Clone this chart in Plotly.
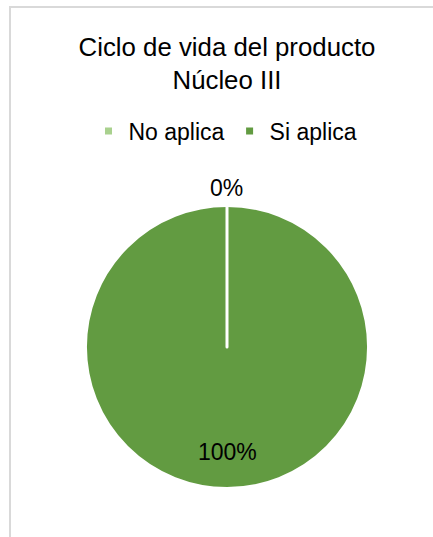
import math
import plotly.graph_objects as go

# Survey answers for the product life-cycle question
categories = ["No aplica", "Si aplica"]
values = [0, 100]
colors = ["#A9D18E", "#629B41"]

title_lines = ["Ciclo de vida del producto", "Núcleo III"]

W, H = 433, 537
FONT = "Liberation Sans, Arial, sans-serif"

# pie placement in pixels (margins are zero, so paper == page)
CX, CY, R = 227, 347, 141.5
pie_x = [(CX - R) / W, (CX + R) / W]
pie_y = [1 - (CY + R) / H, 1 - (CY - R) / H]

fig = go.Figure()

fig.add_trace(go.Pie(
    labels=categories,
    values=values,
    marker=dict(colors=colors, line=dict(color="white", width=3)),
    sort=True,
    direction="clockwise",
    rotation=0,
    textinfo="none",
    showlegend=False,
    domain=dict(x=pie_x, y=pie_y),
    hoverinfo="label+percent",
))

# percentage labels placed at each slice's mid-angle (largest slice first,
# clockwise from 12 o'clock, same order the pie is drawn in)
total = sum(values)
order = sorted(range(len(values)), key=lambda i: -values[i])
cum = 0.0
annotations = []
for i in order:
    v = values[i]
    frac_mid = (cum + v / 2) / total
    cum += v
    ang = 2 * math.pi * frac_mid
    share = v / total
    # a slice that fills the pie gets its label inside, an empty one outside
    dist = 0.75 * (R - 1.5) if share >= 0.5 else (R - 1.5) + 19
    px = CX + dist * math.sin(ang)
    py = CY - dist * math.cos(ang)
    annotations.append(dict(
        x=px / W, y=1 - py / H, xref="paper", yref="paper",
        text=f"{share:.0%}", showarrow=False,
        xanchor="center", yanchor="middle",
        font=dict(family=FONT, size=23, color="#000000"),
    ))

# small square legend keys
for name, col in zip(categories, colors):
    fig.add_trace(go.Scatter(
        x=[None], y=[None], mode="markers", name=name,
        marker=dict(symbol="square", size=7, color=col),
        showlegend=True,
    ))

fig.update_layout(
    width=W, height=H,
    margin=dict(l=0, r=0, t=0, b=0),
    paper_bgcolor="white",
    plot_bgcolor="white",
    title=dict(
        text="<br>".join(title_lines),
        x=227 / W, xanchor="center",
        y=1 - 55.5 / H, yanchor="top", yref="container",
        font=dict(family=FONT, size=25.8, color="#000000"),
    ),
    legend=dict(
        orientation="h",
        x=0.5 + 9 / W, xanchor="center",
        y=1 - 131 / H, yanchor="middle",
        font=dict(family=FONT, size=23, color="#000000"),
        itemsizing="trace",
    ),
    annotations=annotations,
    xaxis=dict(visible=False),
    yaxis=dict(visible=False),
    shapes=[
        # chart-area frame (only its left and top edges fall on the page)
        dict(type="rect", xref="paper", yref="paper",
             x0=10 / W, x1=1.05, y0=-0.05, y1=1 - 7 / H,
             line=dict(color="#D9D9D9", width=2), layer="below"),
    ],
)

fig.write_html("out.html")
